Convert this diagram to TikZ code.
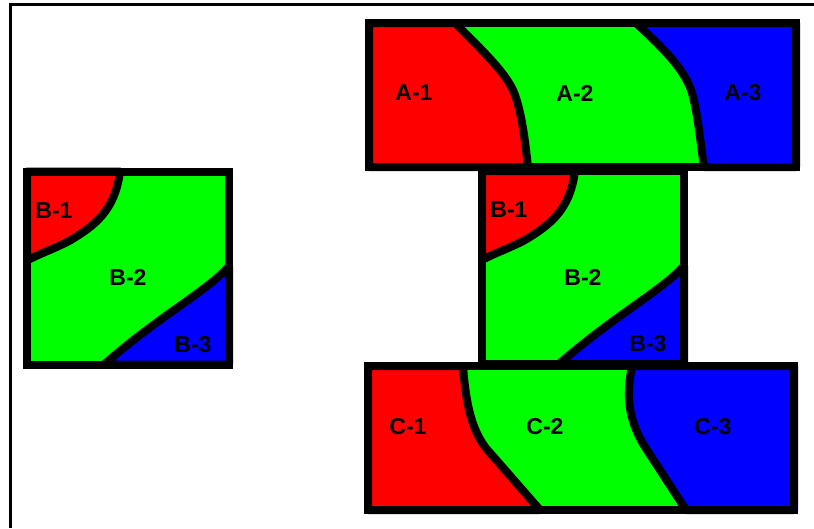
\documentclass[tikz,border=0pt]{standalone}
\usepackage{fontspec}
\setmainfont{Liberation Sans}
\definecolor{cr}{RGB}{255,0,0}
\definecolor{cg}{RGB}{0,255,0}
\definecolor{cb}{RGB}{0,0,255}
\begin{document}
\begin{tikzpicture}[x=1pt,y=-1pt,
  region/.style={draw=black,line width=8pt,line join=round},
  outline/.style={draw=black,line width=8pt,line join=miter},
  lbl/.style={font=\fontsize{23}{23}\selectfont\bfseries,inner sep=0pt,anchor=center},
  frameline/.style={draw=black,line width=3.5pt,line join=miter}]
\useasboundingbox (0,0) rectangle (814,528);
\fill[white] (0,0) rectangle (814,528);
\draw[frameline] (814,4.5) -- (10.5,4.5) -- (10.5,528);

% ---- A box ----
\path[region,fill=cg] (369,23) rectangle (796,167);
\path[region,fill=cr] (369,23) -- (455,23) .. controls (485,53) and (508,75) .. (515,95) .. controls (522,115) and (525,140) .. (528,167) -- (369,167) -- cycle;
\path[region,fill=cb] (636,23) .. controls (665,50) and (685,70) .. (692,93) .. controls (698,115) and (700,140) .. (704,167) -- (796,167) -- (796,23) -- cycle;
\path[outline] (369,23) rectangle (796,167);
\node[lbl] (a1) at (414,93) {A-1};
\node[lbl] (a2) at (575,93) {A-2};
\node[lbl] (a3) at (743,93) {A-3};

% ---- C box ----
\path[region,fill=cg] (368,366) rectangle (794,510);
\path[region,fill=cr] (368,366) -- (463,366) .. controls (466,405) and (472,435) .. (492,455) -- (540,510) -- (368,510) -- cycle;
\path[region,fill=cb] (632,366) .. controls (626,395) and (628,420) .. (645,447) -- (686,510) -- (794,510) -- (794,366) -- cycle;
\path[outline] (368,366) rectangle (794,510);
\node[lbl] (c1) at (408,427) {C-1};
\node[lbl] (c2) at (545,427) {C-2};
\node[lbl] (c3) at (713,427) {C-3};

% ---- B boxes ----
\foreach \dx/\dy/\nm in {27/171.5/l, 482/171/m} {
  \begin{scope}[shift={(\dx,\dy)}]
    \path[region,fill=cg] (0,0) rectangle (202,193);
    \path[region,fill=cr] (0,0) -- (93,0) .. controls (88,39) and (68,54) .. (43,69) .. controls (28,77) and (13,82) .. (0,89) -- cycle;
    \path[region,fill=cb] (202,95) .. controls (178,121) and (133,144) .. (77,193) -- (202,193) -- cycle;
    \path[outline] (0,0) rectangle (202,193);
    \node[lbl] (b1\nm) at (27,39) {B-1};
    \node[lbl] (b2\nm) at (101,106) {B-2};
    \node[lbl] (b3\nm) at (166,173) {B-3};
  \end{scope}
}
\end{tikzpicture}
\end{document}
